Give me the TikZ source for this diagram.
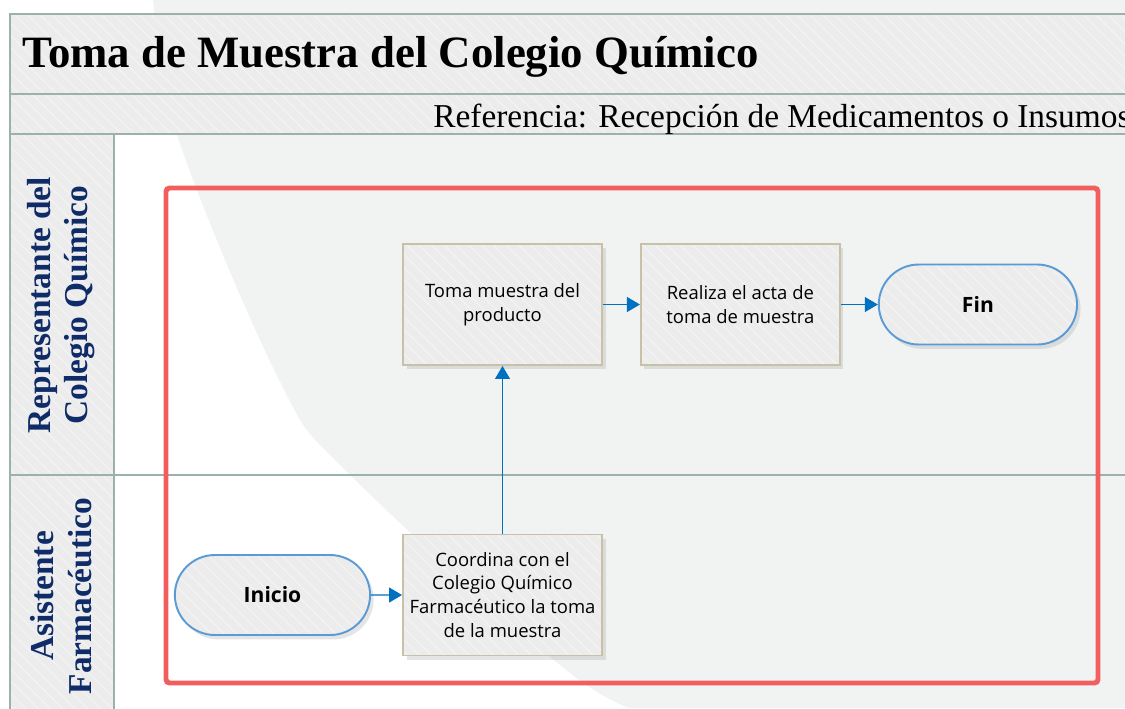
\documentclass[tikz,border=0pt]{standalone}
\usepackage{fontspec}
\setmainfont{Liberation Serif}
\newfontfamily\boxfont{Open Sans}
\usepackage{tikz}
\usetikzlibrary{shapes.misc,arrows.meta,positioning,shadows,patterns.meta}

\definecolor{paper}{HTML}{F1F3F3}
\definecolor{bandgray}{HTML}{ECECEC}
\definecolor{frameline}{HTML}{9CB1A9}
\definecolor{lanenavy}{HTML}{0F2C68}
\definecolor{boxline}{HTML}{C8C1A7}
\definecolor{pillline}{HTML}{5B9BD5}
\definecolor{flowblue}{HTML}{0070C0}
\definecolor{markred}{HTML}{F25E5E}

\begin{document}
\begin{tikzpicture}[x=0.02cm, y=-0.02cm, node distance=0.74cm,
    hatch/.style={preaction={fill=bandgray}, preaction={pattern={Lines[angle=-45,distance=5pt,line width=0.5pt]}, pattern color=white!45!bandgray}},
    band/.style={hatch, draw=frameline, line width=1.1pt},
    lanelabel/.style={rotate=90, align=center, text=lanenavy, font=\bfseries\fontsize{19}{21.5}\selectfont},
    process/.style={rectangle, drop shadow={opacity=0.2, shadow xshift=2pt, shadow yshift=-2.5pt}, hatch, draw=boxline, line width=1.1pt, minimum width=3.98cm, minimum height=2.42cm, align=center, font=\boxfont\fontsize{10.5}{13.6}\selectfont},
    terminal/.style={rounded rectangle, drop shadow={opacity=0.2, shadow xshift=2pt, shadow yshift=-2.5pt}, hatch, draw=pillline, line width=1.1pt, minimum width=4.2cm, minimum height=1.6cm, font=\boxfont\bfseries\fontsize{12}{14}\selectfont},
    markframe/.style={draw=markred, line width=2.8pt, rounded corners=2pt},
    arrow/.style={draw=flowblue, line width=0.6pt, -{Triangle[length=0.26cm, width=0.3cm]}}]

    \useasboundingbox (0,0) rectangle (1125,708);
    \clip (0,0) rectangle (1125,708);

    % background
    \fill[paper] (0,0) rectangle (1125,708);
    \fill[white] (0,-5) -- plot[smooth, tension=0.6] coordinates {(153,-5) (177,135) (279,380) (350,475) (579,680) (680,720)} -- (0,720) -- cycle;

    % pool and lanes
    \draw[band] (10,14) rectangle (1140,94);
    \draw[band] (10,94) rectangle (1140,134);
    \draw[band] (10,134) rectangle (114,720);
    \draw[draw=frameline, line width=1.1pt] (10,475) -- (1140,475);

    \node[anchor=base west, inner sep=0, font=\bfseries\fontsize{25.5}{30}\selectfont] (title) at (22,67) {Toma de Muestra del Colegio Químico};
    \node[anchor=base west, inner sep=0, font=\fontsize{19}{23}\selectfont] (subtitle) at (433,127) {Referencia: Recepción de Medicamentos o Insumos};

    \node[lanelabel] (laneRep) at (61,305) {Representante del\\Colegio Químico};
    \node[lanelabel] (laneAsis) at (61,596) {Asistente\\Farmacéutico};

    % highlighted area
    \draw[markframe] (166,188) rectangle (1098,683);

    % activities
    \node[process] (toma) at (502.5,304.5) {Toma muestra del\\producto};
    \node[process, right=of toma] (acta) {Realiza el acta de\\toma de muestra};
    \node[terminal, right=of acta] (fin) {Fin};
    \node[process] (coord) at (502.5,595) {Coordina con el\\Colegio Químico\\Farmacéutico la toma\\de la muestra};
    \node[terminal, left=0.62cm of coord, minimum width=4.14cm] (inicio) {Inicio};

    \draw[arrow] (inicio) -- (coord);
    \draw[arrow] (coord) -- (toma);
    \draw[arrow] (toma) -- (acta);
    \draw[arrow] (acta) -- (fin);

\end{tikzpicture}
\end{document}
